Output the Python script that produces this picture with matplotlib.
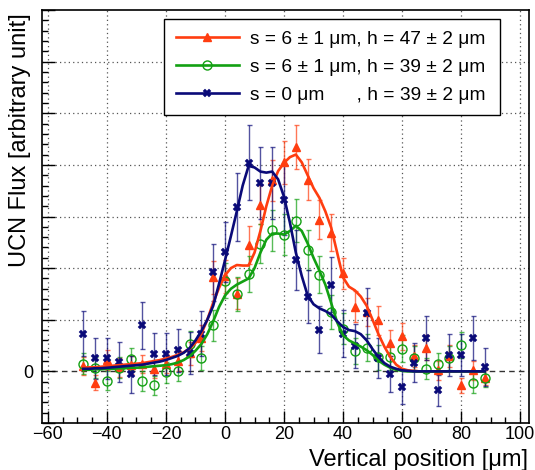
import matplotlib
matplotlib.use("Agg")
import matplotlib.pyplot as plt
from matplotlib.lines import Line2D
from matplotlib.ticker import MultipleLocator

plt.rcParams['font.family'] = ['Liberation Sans', 'DejaVu Sans']

# ---------------- data ----------------
pos = [-48, -44, -40, -36, -32, -28, -24, -20, -16, -12, -8, -4, 0, 4, 8, 12, 16,
       20, 24, 28, 32, 36, 40, 44, 48, 52, 56, 60, 64, 68, 72, 76, 80, 84, 88]

red_y = [0.10, -0.22, 0.22, 0.08, 0.12, 0.14, 0.05, 0.15, 0.21, 0.35, 0.64, 1.82, 1.84,
         1.50, 2.45, 3.23, 3.70, 4.05, 4.35, 3.71, 2.94, 2.69, 1.90, 1.25, 1.15, 0.99,
         0.55, 0.68, 0.30, 0.46, 0.02, 0.30, -0.27, 0.02, -0.12]
red_err = [0.17, 0.15, 0.20, 0.18, 0.18, 0.18, 0.17, 0.18, 0.20, 0.22, 0.25, 0.32, 0.32,
           0.30, 0.37, 0.38, 0.40, 0.42, 0.43, 0.40, 0.38, 0.36, 0.30, 0.30, 0.28, 0.28,
           0.25, 0.26, 0.22, 0.24, 0.18, 0.22, 0.15, 0.18, 0.15]

green_y = [0.15, 0.07, -0.18, 0.07, 0.24, -0.19, -0.27, -0.02, 0.01, 0.53, 0.26, 0.89,
           1.76, 1.49, 1.89, 2.47, 2.73, 2.65, 2.92, 2.35, 1.87, 1.15, 0.83, 0.40, 0.46,
           0.27, 0.27, 0.44, 0.26, 0.05, 0.15, 0.26, 0.51, -0.22, -0.12]
green_err = [0.20, 0.20, 0.19, 0.20, 0.21, 0.19, 0.19, 0.20, 0.20, 0.26, 0.23, 0.30,
             0.33, 0.33, 0.35, 0.38, 0.40, 0.40, 0.41, 0.38, 0.36, 0.32, 0.30, 0.25,
             0.26, 0.24, 0.24, 0.26, 0.24, 0.20, 0.21, 0.24, 0.26, 0.19, 0.19]

blue_y = [0.73, 0.25, 0.25, 0.18, -0.06, 0.89, 0.34, 0.34, 0.41, 0.35, 0.73, 1.92, 2.31,
          3.18, 4.04, 3.65, 3.65, 3.32, 2.15, 1.45, 0.81, 1.68, 0.73, 0.49, 1.13, 0.26,
          -0.05, -0.30, 0.17, 0.65, -0.37, 0.32, 0.32, 0.65, 0.09]
blue_err = [0.44, 0.39, 0.39, 0.38, 0.36, 0.45, 0.41, 0.41, 0.42, 0.41, 0.44, 0.55, 0.58,
            0.66, 0.73, 0.70, 0.70, 0.67, 0.58, 0.52, 0.45, 0.53, 0.45, 0.42, 0.49, 0.38,
            0.35, 0.33, 0.38, 0.43, 0.30, 0.40, 0.40, 0.43, 0.37]

curve_x = [-48, -46, -44, -42, -40, -38, -36, -34, -32, -30, -28, -26, -24, -22, -20,
           -18, -16, -14, -12, -10, -8, -6, -4, -2, 0, 2, 4, 6, 8, 10, 12, 14, 16, 18,
           20, 22, 24, 26, 28, 30, 32, 34, 36, 38, 40, 42, 44, 46, 48, 50, 52, 54, 56,
           58, 60, 62, 64, 66, 68, 70, 72, 74, 76, 78, 80, 82, 84, 86, 88]

red_curve = [0.07, 0.08, 0.08, 0.09, 0.10, 0.11, 0.12, 0.13, 0.14, 0.15, 0.16, 0.18,
             0.20, 0.22, 0.25, 0.28, 0.32, 0.37, 0.44, 0.55, 0.73, 1.00, 1.33, 1.62,
             1.86, 2.00, 2.06, 2.05, 2.05, 2.30, 2.72, 3.20, 3.60, 3.88, 4.04, 4.15,
             4.20, 4.05, 3.80, 3.55, 3.36, 3.10, 2.78, 2.30, 1.82, 1.64, 1.57, 1.45,
             1.27, 1.00, 0.72, 0.48, 0.28, 0.13, 0.05, 0.02, 0.01, 0.0, 0.0, 0.0, 0.0,
             0.0, 0.0, 0.0, 0.0, 0.0, 0.0, 0.0, 0.0]

green_curve = [0.03, 0.03, 0.04, 0.04, 0.05, 0.05, 0.06, 0.06, 0.07, 0.07, 0.08, 0.09,
               0.10, 0.11, 0.12, 0.14, 0.17, 0.22, 0.29, 0.40, 0.53, 0.72, 0.97, 1.25,
               1.47, 1.60, 1.68, 1.74, 1.80, 2.00, 2.30, 2.55, 2.67, 2.67, 2.65, 2.72,
               2.82, 2.72, 2.48, 2.20, 1.95, 1.68, 1.32, 0.95, 0.70, 0.60, 0.54, 0.48,
               0.41, 0.32, 0.21, 0.13, 0.07, 0.03, 0.01, 0.0, 0.0, 0.0, 0.0, 0.0, 0.0,
               0.0, 0.0, 0.0, 0.0, 0.0, 0.0, 0.0, 0.0]

blue_curve = [0.05, 0.05, 0.06, 0.06, 0.07, 0.08, 0.09, 0.10, 0.11, 0.12, 0.13, 0.15,
              0.17, 0.19, 0.22, 0.26, 0.30, 0.36, 0.45, 0.60, 0.78, 1.00, 1.27, 1.70,
              2.15, 2.62, 3.10, 3.60, 3.98, 3.95, 3.87, 3.85, 3.87, 3.72, 3.38, 2.88,
              2.30, 1.85, 1.47, 1.30, 1.22, 1.17, 1.10, 0.97, 0.86, 0.80, 0.78, 0.72,
              0.60, 0.43, 0.28, 0.16, 0.09, 0.05, 0.02, 0.01, 0.0, 0.0, 0.0, 0.0, 0.0,
              0.0, 0.0, 0.0, 0.0, 0.0, 0.0, 0.0, 0.0]

labels = ["s = 6 ± 1 μm, h = 47 ± 2 μm",
          "s = 6 ± 1 μm, h = 39 ± 2 μm",
          "s = 0 μm      , h = 39 ± 2 μm"]

RED = "#ff3d10"
GREEN = "#12a012"
BLUE = "#0a0a78"

# ---------------- figure ----------------
W, H = 535, 470
fig = plt.figure(figsize=(W / 100, H / 100), dpi=100)
ax = fig.add_axes([42 / W, 1 - 423 / H, (529 - 42) / W, (423 - 10) / H])

ax.set_xlim(-62, 103)
ax.set_ylim(-1, 7)

# grid
for gx in range(-60, 101, 20):
    ax.axvline(gx, color="#555555", lw=0.9, ls=(0, (1, 2.5)), zorder=0.5)
for gy in range(1, 7):
    ax.axhline(gy, color="#555555", lw=0.9, ls=(0, (1, 2.5)), zorder=0.5)
ax.axhline(0, color="#333333", lw=1.0, ls=(0, (4, 3)), zorder=0.6)

series = [
    (red_y, red_err, red_curve, RED, "^", dict(ms=5.5, mfc=RED, mec=RED)),
    (green_y, green_err, green_curve, GREEN, "o", dict(ms=6.5, mfc="none", mec=GREEN, mew=1.0)),
    (blue_y, blue_err, blue_curve, BLUE, "X", dict(ms=5.5, mfc=BLUE, mec=BLUE, mew=0.3)),
]

for yv, ev, cv, col, mk, mkw in series:
    ax.errorbar(pos, yv, yerr=ev, fmt="none", ecolor=col, elinewidth=1.0,
                capsize=1.8, capthick=1.0, alpha=0.7, zorder=2)
for yv, ev, cv, col, mk, mkw in series:
    ax.plot(pos, yv, ls="none", marker=mk, zorder=3, **mkw)
for yv, ev, cv, col, mk, mkw in series:
    ax.plot(curve_x, cv, color=col, lw=1.9, zorder=4, solid_joinstyle="round")

# ticks
ax.xaxis.set_major_locator(MultipleLocator(20))
ax.xaxis.set_minor_locator(MultipleLocator(5))
ax.yaxis.set_major_locator(MultipleLocator(1))
ax.yaxis.set_minor_locator(MultipleLocator(0.2))
ax.tick_params(axis="both", which="major", direction="in", length=9, width=1.0)
ax.tick_params(axis="both", which="minor", direction="in", length=4.5, width=1.0)
ax.tick_params(axis="x", labelsize=13, pad=2)
ax.tick_params(axis="y", labelsize=13, pad=6)
ax.yaxis.set_major_formatter(plt.FuncFormatter(lambda v, p: "0" if abs(v) < 1e-9 else ""))
for s in ax.spines.values():
    s.set_linewidth(1.2)

fig.text(528 / W, 1 - 466 / H, "Vertical position [μm]", ha="right", va="baseline", fontsize=17)
fig.text(20 / W, 1 - 13 / H, "UCN Flux [arbitrary unit]", ha="center", va="top",
         rotation=90, fontsize=17)

handles = [Line2D([], [], color=c, lw=1.9, marker=m, **k) for _, _, _, c, m, k in series]
leg = ax.legend(handles, labels, loc="upper left",
                bbox_to_anchor=(164 / W, 1 - 113 / H, 336 / W, 94 / H),
                bbox_transform=fig.transFigure, mode="expand", borderaxespad=0,
                fontsize=13.8, handlelength=3.3, handletextpad=0.6, labelspacing=0.55,
                borderpad=0.6, fancybox=False, framealpha=1, edgecolor="black")
leg.get_frame().set_linewidth(1.0)
leg.set_zorder(10)

fig.savefig("out.png", dpi=100)
